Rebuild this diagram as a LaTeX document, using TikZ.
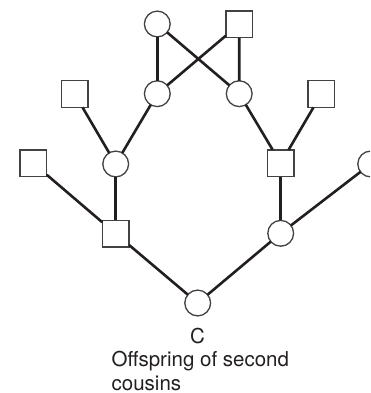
\documentclass[tikz,border=0pt]{standalone}
\usepackage{fontspec}
\setmainfont{TeX Gyre Heros}
\definecolor{ink}{HTML}{231F20}
\begin{document}
\begin{tikzpicture}[x=1pt,y=-1pt,
  person/.style={draw=ink!85, line width=1.3pt, fill=white, inner sep=0pt, outer sep=0pt},
  fem/.style={person, circle, minimum size=25.8pt},
  mal/.style={person, rectangle, minimum size=26.8pt},
  link/.style={draw=ink, line width=2.6pt},
  lbl/.style={inner sep=0pt, text=ink, font=\fontsize{20.5}{24}\selectfont}]
\useasboundingbox (0,0) rectangle (370,393);
\clip (0,0) rectangle (370,393);
% generation 1
\node[fem] (g1f) at (157.3,24) {};
\node[mal] (g1m) at (239.3,24.3) {};
% generation 2
\node[mal] (g2a) at (74.7,94) {};
\node[fem] (g2b) at (157.3,93.7) {};
\node[fem] (g2c) at (239.2,93.7) {};
\node[mal] (g2d) at (321.3,94) {};
% generation 3
\node[mal] (g3a) at (33.3,163.3) {};
\node[fem] (g3b) at (115.7,164) {};
\node[mal] (g3c) at (280.7,163.3) {};
\node[fem] (g3d) at (370.7,164) {};
% generation 4
\node[mal] (g4a) at (115.7,233.7) {};
\node[fem] (g4b) at (280.7,233.3) {};
% proband
\node[fem] (c) at (197.7,303) {};
% connectors
\draw[link] (g1f) -- (g2b);
\draw[link] (g1f) -- (g2c);
\draw[link] (g1m) -- (g2c);
\draw[link] (g1m) -- (g2b);
\draw[link] (g2a) -- (g3b);
\draw[link] (g2b) -- (g3b);
\draw[link] (g2c) -- (g3c);
\draw[link] (g2d) -- (g3c);
\draw[link] (g3a) -- (g4a);
\draw[link] (g3b) -- (g4a);
\draw[link] (g3c) -- (g4b);
\draw[link] (g3d) -- (g4b);
\draw[link] (g4a) -- (c);
\draw[link] (g4b) -- (c);
% labels
\node[lbl, anchor=base] (lc) at (197.5,343.5) {C};
\node[lbl, anchor=base west] (l1) at (111.5,366.5) {Offspring of second};
\node[lbl, anchor=base west] (l2) at (111.5,390) {cousins};
\end{tikzpicture}
\end{document}
